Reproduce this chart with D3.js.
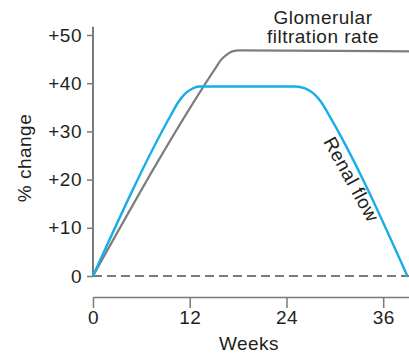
<!DOCTYPE html>
<html><head><meta charset="utf-8">
<script src="https://cdn.jsdelivr.net/npm/d3@7"></script>
<style>
html,body{margin:0;padding:0;background:#fff;}
text{font-family:"Liberation Sans",Arial,Helvetica,sans-serif;fill:#231f20;letter-spacing:0.5px;}
</style></head>
<body><svg id="c" width="409" height="356"></svg>
<script>
// data
const yTicks = [0, 10, 20, 30, 40, 50];
const yTickLabels = ["0", "+10", "+20", "+30", "+40", "+50"];
const xTicks = [0, 12, 24, 36];
const gfrWeeks = [0, 15.3, 15.9, 16.6, 17.3, 18.1, 39.2];
const gfrValues = [0, 43.4, 44.9, 45.95, 46.6, 46.8, 46.6];
const renalWeeks = [0, 9.7, 10.55, 11.4, 12.3, 13.2, 25.1, 26.3, 27.35, 28.3, 29.2, 39.0];
const renalValues = [0, 33.5, 36.0, 37.8, 38.85, 39.3, 39.3, 38.95, 37.9, 36.1, 33.6, 0];

const svg = d3.select("#c");
const x = d3.scaleLinear().domain([0, 39.2]).range([93, 409]);
const y = d3.scaleLinear().domain([0, 50]).range([276, 35]);
const axisCol = "#7a7a7a";
const FS = 19;

// y axis
const yAxis = d3.axisLeft(y).tickValues(yTicks)
  .tickFormat((d, i) => yTickLabels[i]).tickSize(6).tickPadding(5);
const gy = svg.append("g").attr("transform", "translate(93,0)").call(yAxis);
gy.select(".domain").remove();
gy.append("line").attr("x1", 0).attr("x2", 0).attr("y1", y(51.7)).attr("y2", y(0))
  .attr("stroke", axisCol).attr("stroke-width", 2);
gy.selectAll(".tick line").attr("stroke", axisCol).attr("stroke-width", 1.5);
gy.selectAll(".tick text").attr("font-size", FS).attr("fill", "#231f20")
  .style("font-family", '"Liberation Sans",Arial,sans-serif');

// x axis
const xAxis = d3.axisBottom(x).tickValues(xTicks).tickSize(11).tickPadding(3).tickSizeOuter(0);
const gx = svg.append("g").attr("transform", "translate(0,297)").call(xAxis);
gx.select(".domain").attr("stroke", axisCol).attr("stroke-width", 1.5);
gx.selectAll(".tick line").attr("stroke", axisCol).attr("stroke-width", 1.5);
gx.selectAll(".tick text").attr("font-size", FS).attr("fill", "#231f20")
  .style("font-family", '"Liberation Sans",Arial,sans-serif');

// zero dashed line
svg.append("line").attr("x1", x(0)).attr("x2", 409).attr("y1", y(0)).attr("y2", y(0))
  .attr("stroke", axisCol).attr("stroke-width", 2).attr("stroke-dasharray", "9,5");

const line = d3.line().x(d => x(d[0])).y(d => y(d[1])).curve(d3.curveMonotoneX);
svg.append("path").datum(gfrWeeks.map((w, i) => [w, gfrValues[i]]))
  .attr("d", line).attr("fill", "none").attr("stroke", "#7d7d7d").attr("stroke-width", 2.2);
svg.append("path").datum(renalWeeks.map((w, i) => [w, renalValues[i]]))
  .attr("d", line).attr("fill", "none").attr("stroke", "#17aee8").attr("stroke-width", 2.4);

// labels
svg.append("text").attr("x", 323).attr("y", 23.5).attr("text-anchor", "middle").attr("font-size", FS).text("Glomerular");
svg.append("text").attr("x", 323).attr("y", 43).attr("text-anchor", "middle").attr("font-size", FS).text("filtration rate");
svg.append("text").attr("transform", "translate(350,180) rotate(61)").attr("text-anchor", "middle")
  .attr("dominant-baseline", "middle").attr("font-size", FS).text("Renal flow");
svg.append("text").attr("x", 249).attr("y", 350).attr("text-anchor", "middle").attr("font-size", FS).text("Weeks");
svg.append("text").attr("transform", "translate(31,158) rotate(-90)").attr("text-anchor", "middle")
  .attr("font-size", FS).text("% change");
</script></body></html>
